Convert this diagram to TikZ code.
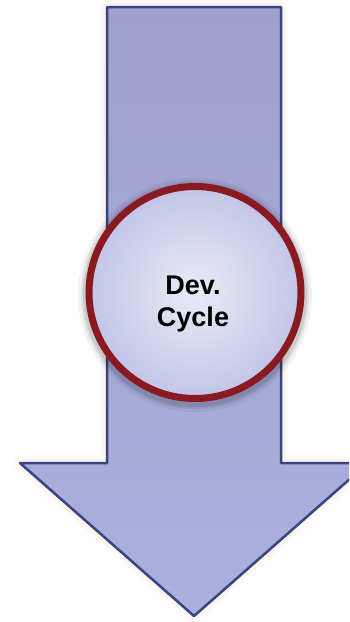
\documentclass[tikz,border=0pt]{standalone}
\usepackage{fontspec}
\setmainfont{Liberation Sans}
\definecolor{arrowline}{RGB}{56,70,128}
\definecolor{circred}{RGB}{138,26,34}
\definecolor{shafttop}{RGB}{160,160,204}
\definecolor{shaftbot}{RGB}{170,176,222}
\definecolor{circin}{RGB}{234,235,247}
\definecolor{circout}{RGB}{194,197,230}
\definecolor{glow}{RGB}{240,200,180}
\begin{document}
\begin{tikzpicture}[x=1pt,y=-1pt,
  arrowbody/.style={top color=shafttop, bottom color=shaftbot, draw=arrowline, line width=2.5pt, line join=round},
  cycring/.style={circle, minimum size=212pt, draw=circred, line width=7pt, inner color=circin, outer color=circout},
  ringshade/.style={draw=black, circle, minimum size=212pt, fill=none},
  cyctext/.style={align=center, font=\bfseries\fontsize{27}{32}\selectfont, text=black}]
\useasboundingbox (0,0) rectangle (349,622);
\clip (0,0) rectangle (349,622);
\fill[white] (0,0) rectangle (349,622);
% soft glow round the arrow
\foreach \w/\o in {14/0.05,10/0.07,6/0.09}{
  \draw[glow, line width=\w pt, opacity=\o, line join=round] (107,7) -- (281,7) -- (281,463) -- (368,463) -- (194,616) -- (20,463) -- (107,463) -- cycle;
}
\path[arrowbody] (107,7) -- (281,7) -- (281,463) -- (368,463) -- (194,616) -- (20,463) -- (107,463) -- cycle;
% soft shadow round the ring
\foreach \w/\o in {22/0.05,16/0.07,12/0.09}{
  \draw[black, line width=\w pt, opacity=\o] (195,295) circle[radius=106pt];
}
\node[cycring] (ring) at (195,292.5) {};
\node[cyctext] (lbl) at (193,304) {Dev.\\Cycle};
\end{tikzpicture}
\end{document}
